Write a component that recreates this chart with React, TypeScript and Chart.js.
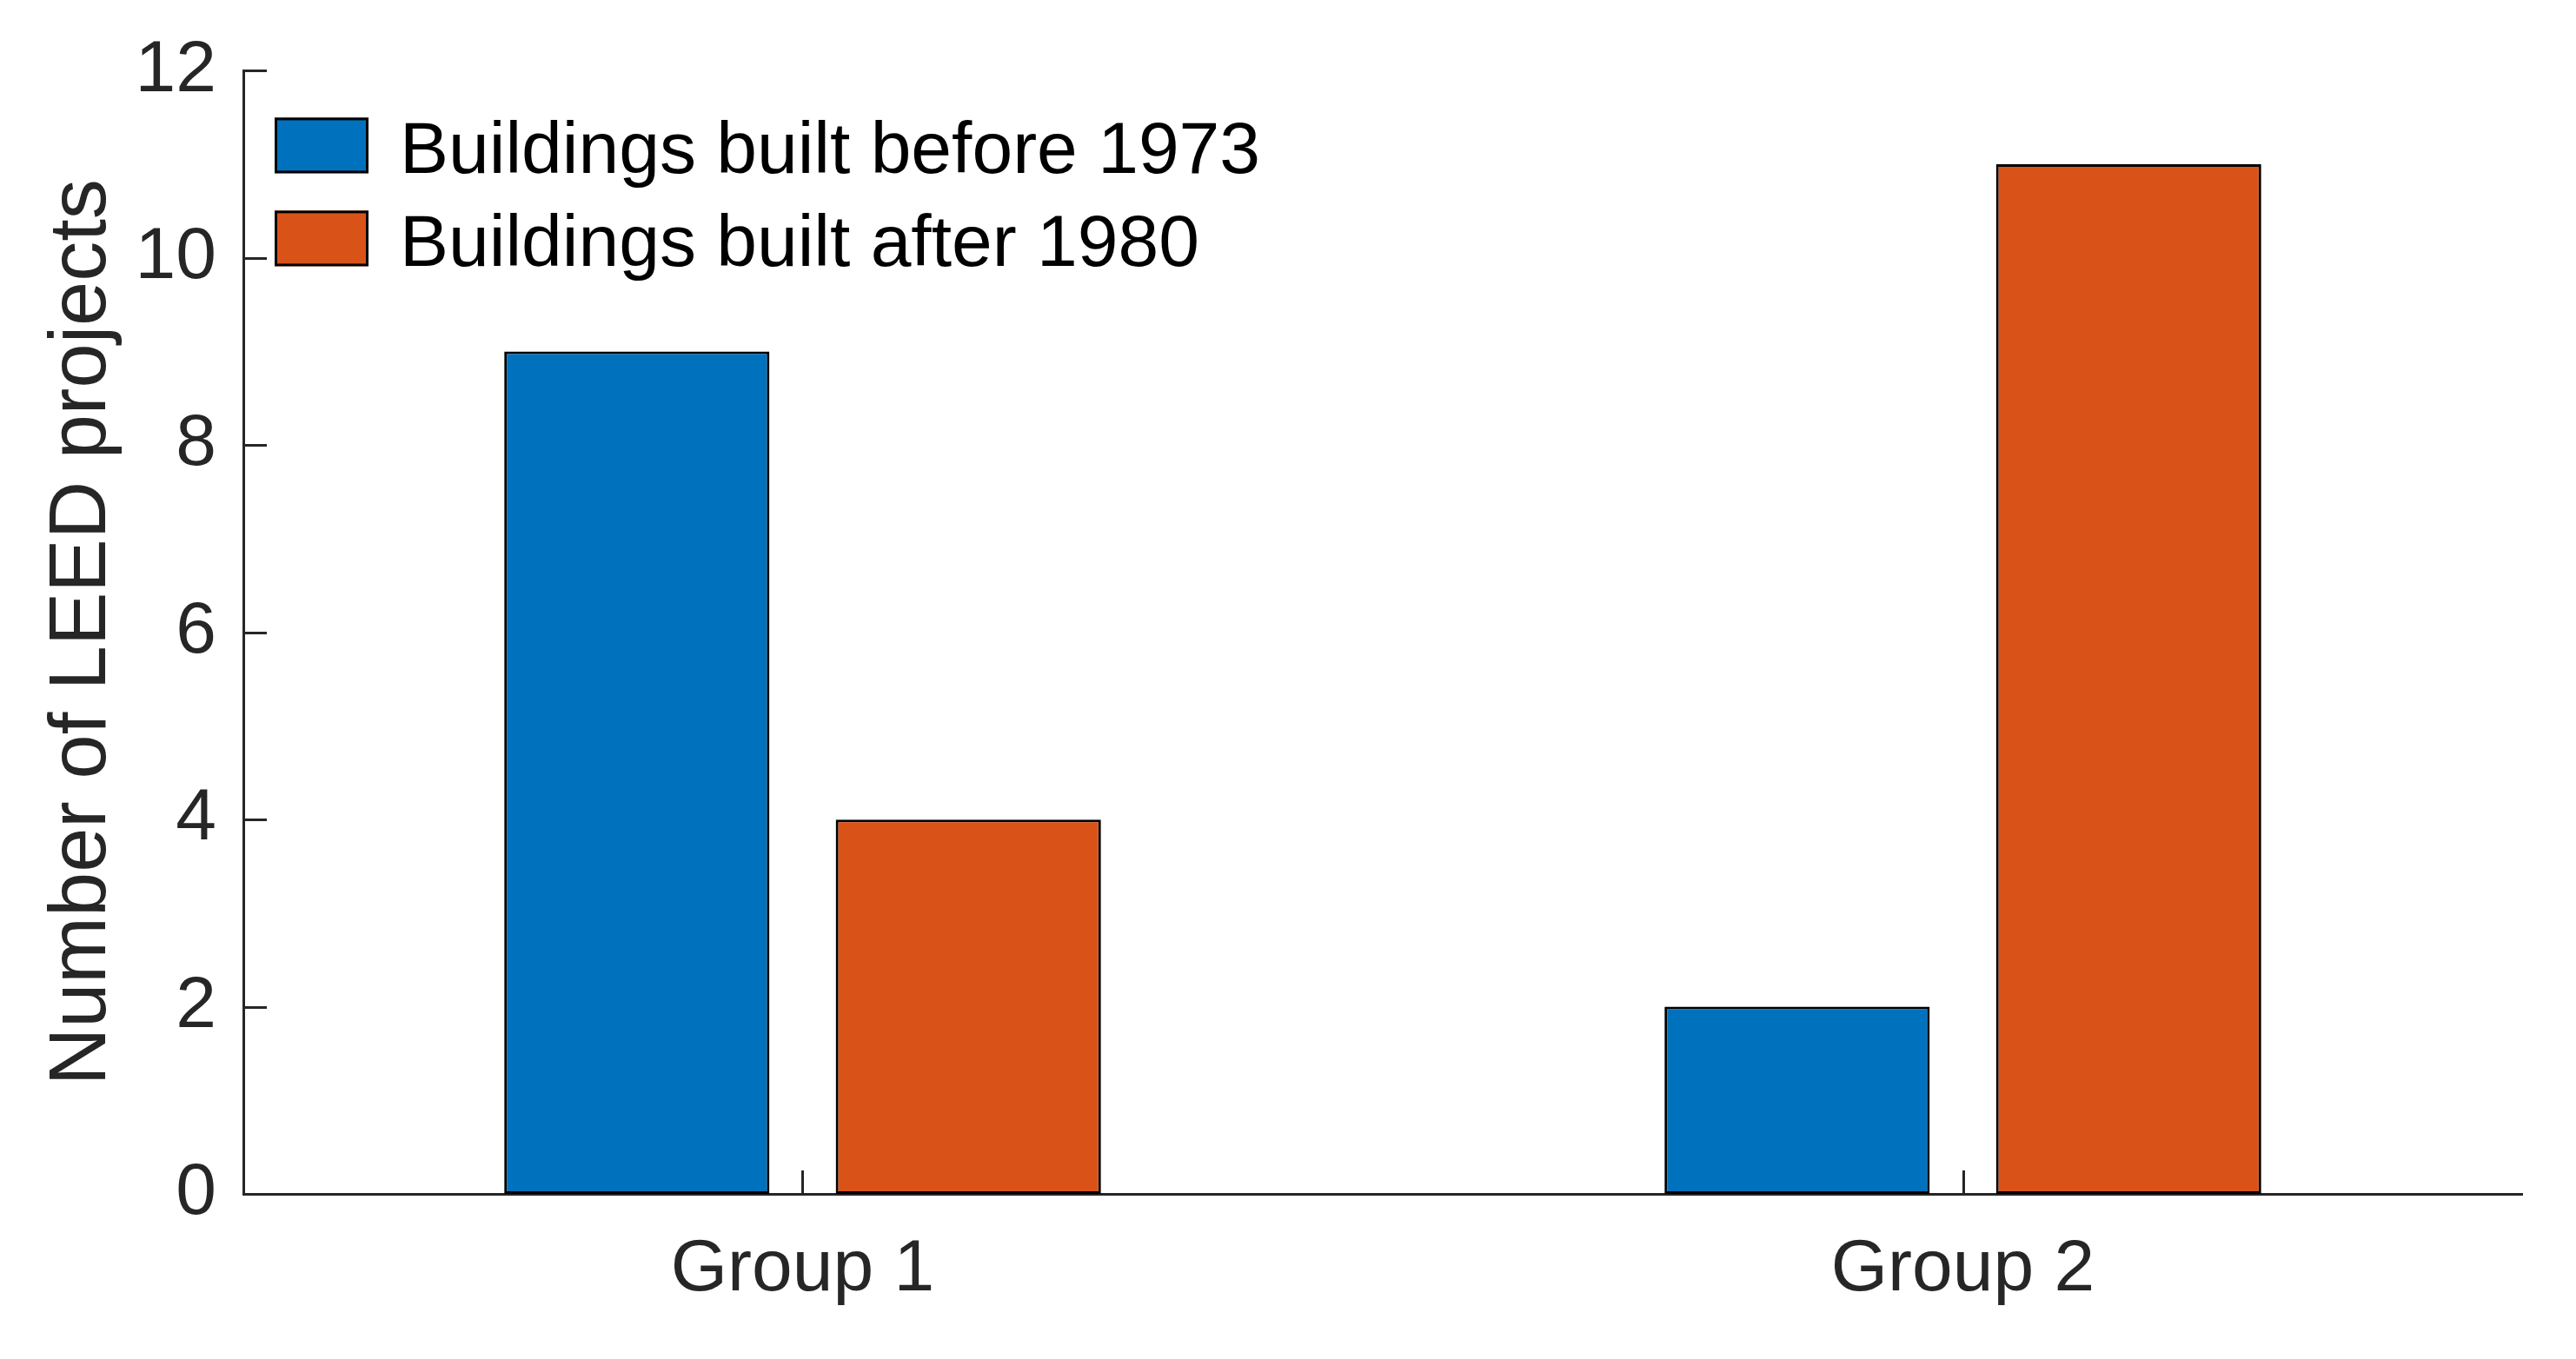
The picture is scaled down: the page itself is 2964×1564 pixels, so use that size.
import React, { useEffect, useRef } from "react";
import { Chart, registerables } from "chart.js";

Chart.register(...registerables);

// ---- data ----
const categories = ["Group 1", "Group 2"];
const categoryPositions = [1, 2];
const seriesLabels = ["Buildings built before 1973", "Buildings built after 1980"];
const before1973 = [9, 2];
const after1980 = [4, 11];
const yTickValues = [0, 2, 4, 6, 8, 10, 12];
const yAxisTitle = "Number of LEED projects";

const seriesColors = ["#0072BD", "#D95319"];
const axisColor = "#262626";
const FONT = "'Liberation Sans', Arial, Helvetica, sans-serif";

const W = 2964;
const H = 1564;

const innerTicksAndLegend = {
  id: "innerTicksAndLegend",
  afterDraw(chart: any) {
    const { ctx, chartArea, scales } = chart;
    const x = scales.x;
    const y = scales.y;
    ctx.save();
    ctx.strokeStyle = axisColor;
    ctx.lineWidth = 3;
    ctx.lineCap = "butt";
    // y ticks pointing inward
    yTickValues.forEach((v) => {
      const py = Math.round(y.getPixelForValue(v)) + 0.5;
      ctx.beginPath();
      ctx.moveTo(chartArea.left, py);
      ctx.lineTo(chartArea.left + 27, py);
      ctx.stroke();
    });
    // x ticks pointing inward
    categoryPositions.forEach((v) => {
      const px = Math.round(x.getPixelForValue(v)) + 0.5;
      ctx.beginPath();
      ctx.moveTo(px, chartArea.bottom);
      ctx.lineTo(px, chartArea.bottom - 27);
      ctx.stroke();
    });

    // legend (no box)
    const datasets = chart.data.datasets;
    const lx = chartArea.left + 36;
    const ly0 = chartArea.top + 54;
    const rowH = 107;
    ctx.font = `84px ${FONT}`;
    ctx.textBaseline = "middle";
    ctx.textAlign = "left";
    datasets.forEach((ds: any, i: number) => {
      const top = ly0 + i * rowH;
      ctx.fillStyle = ds.backgroundColor;
      ctx.fillRect(lx, top, 108, 64);
      ctx.strokeStyle = "#000";
      ctx.lineWidth = 3;
      ctx.strokeRect(lx + 1.5, top + 1.5, 105, 61);
      ctx.fillStyle = "#000";
      ctx.fillText(ds.label, lx + 144, top + 40);
    });
    ctx.restore();
  },
};

export default function App() {
  const canvasRef = useRef<HTMLCanvasElement | null>(null);

  useEffect(() => {
    document.body.style.margin = "0";
    const canvas = canvasRef.current;
    if (!canvas) return;
    const chart = new Chart(canvas, {
      type: "bar",
      data: {
        datasets: [
          {
            label: seriesLabels[0],
            data: categoryPositions.map((p, i) => ({ x: p, y: before1973[i] })),
            backgroundColor: seriesColors[0],
            borderColor: "#000",
            borderWidth: 3,
            borderSkipped: false,
            barPercentage: 0.8,
            categoryPercentage: 2 / 3.5,
          },
          {
            label: seriesLabels[1],
            data: categoryPositions.map((p, i) => ({ x: p, y: after1980[i] })),
            backgroundColor: seriesColors[1],
            borderColor: "#000",
            borderWidth: 3,
            borderSkipped: false,
            barPercentage: 0.8,
            categoryPercentage: 2 / 3.5,
          },
        ],
      },
      options: {
        animation: false,
        responsive: false,
        devicePixelRatio: 1,
        layout: { padding: { top: 81, right: 62, bottom: 0, left: 0 } },
        plugins: {
          legend: { display: false },
          tooltip: { enabled: false },
        },
        scales: {
          x: {
            type: "linear",
            min: 0.518,
            max: 2.482,
            offset: false,
            grid: { display: false, drawTicks: false, offset: false },
            border: { display: true, color: axisColor, width: 3 },
            afterBuildTicks: (scale: any) => {
              scale.ticks = categoryPositions.map((v) => ({ value: v }));
            },
            afterFit: (scale: any) => {
              scale.height = 190;
            },
            ticks: {
              padding: 37,
              color: axisColor,
              font: { family: FONT, size: 84 },
              maxRotation: 0,
              autoSkip: false,
              callback: (v: any) => {
                const idx = categoryPositions.indexOf(Number(v));
                return idx >= 0 ? categories[idx] : "";
              },
            },
          },
          y: {
            type: "linear",
            min: 0,
            max: 12,
            grid: { display: false, drawTicks: false },
            border: { display: true, color: axisColor, width: 3 },
            afterBuildTicks: (scale: any) => {
              scale.ticks = yTickValues.map((v) => ({ value: v }));
            },
            afterFit: (scale: any) => {
              scale.width = 280;
            },
            ticks: {
              padding: 31,
              color: axisColor,
              font: { family: FONT, size: 84 },
              callback: (v: any) => String(v),
            },
            title: {
              display: true,
              text: yAxisTitle,
              color: axisColor,
              font: { family: FONT, size: 92 },
              padding: { top: 40, bottom: 0 },
            },
          },
        },
      },
      plugins: [innerTicksAndLegend],
    } as any);
    return () => chart.destroy();
  }, []);

  return (
    <div style={{ position: "absolute", left: 0, top: 0, width: W, height: H, background: "#fff" }}>
      <canvas ref={canvasRef} width={W} height={H} style={{ display: "block", width: W, height: H }} />
    </div>
  );
}
